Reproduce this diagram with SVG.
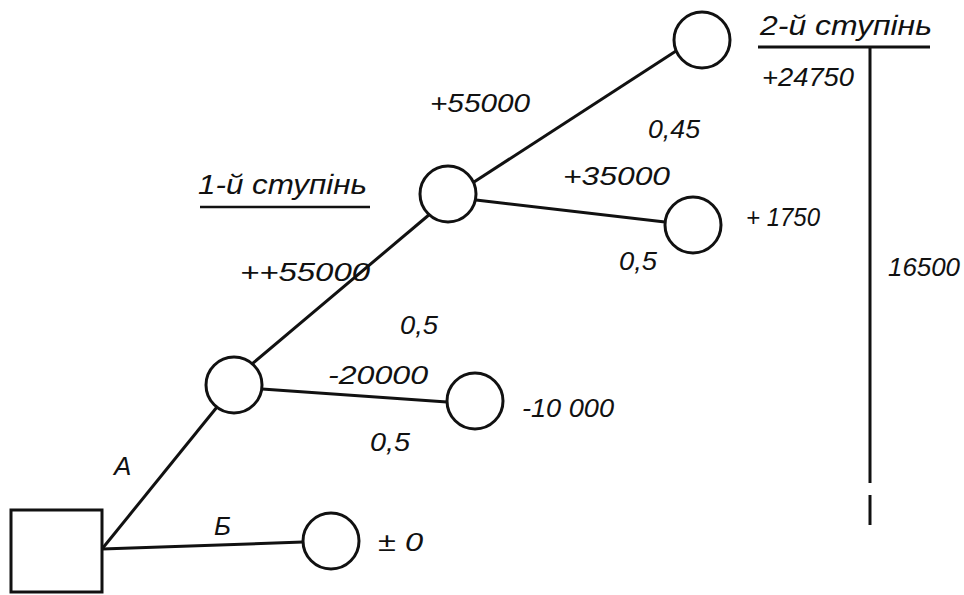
<svg xmlns="http://www.w3.org/2000/svg" width="964" height="595" viewBox="0 0 964 595">
<style>
.n{fill:none;stroke:#111;stroke-width:3}
.c line{stroke:#111;stroke-width:3}
text{font-family:"Liberation Sans",sans-serif;font-style:italic;font-size:26px;fill:#111}
.s{font-size:28px}
</style>
<rect width="964" height="595" fill="#fff"/>
<g class="c" id="connectors">
<line x1="102" y1="549" x2="303" y2="542"/>
<line x1="102" y1="549" x2="217" y2="407"/>
<line x1="262" y1="389" x2="447" y2="402"/>
<line x1="252" y1="364" x2="430" y2="214"/>
<line x1="474" y1="182" x2="676" y2="51"/>
<line x1="476" y1="200" x2="665" y2="222"/>
<line x1="758" y1="47" x2="930" y2="47"/>
<line x1="870" y1="47" x2="870" y2="483"/>
<line x1="870" y1="495" x2="870" y2="525"/>
</g>
<g id="root"><rect class="n" x="11" y="510" width="91" height="82"/></g>
<g id="nodeB"><circle class="n" cx="331" cy="541" r="28"/><text x="378" y="551" textLength="45" lengthAdjust="spacingAndGlyphs">± 0</text></g>
<g id="nodeA"><circle class="n" cx="234" cy="385" r="28"/></g>
<g id="nodeA_minus"><circle class="n" cx="475" cy="401" r="28"/><text x="522" y="417" textLength="92" lengthAdjust="spacingAndGlyphs">-10 000</text></g>
<g id="nodeA_plus"><circle class="n" cx="448" cy="194" r="28"/></g>
<g id="nodeTop"><circle class="n" cx="702" cy="40" r="28"/></g>
<g id="nodeMid"><circle class="n" cx="693" cy="225" r="28"/><text x="746" y="226" textLength="74" lengthAdjust="spacingAndGlyphs">+ 1750</text></g>
<g id="labels">
<text x="114" y="475">A</text>
<text x="214" y="535">Б</text>
<text x="328" y="384" textLength="100" lengthAdjust="spacingAndGlyphs">-20000</text>
<text x="370" y="451" textLength="40" lengthAdjust="spacingAndGlyphs">0,5</text>
<text x="240" y="281" textLength="130" lengthAdjust="spacingAndGlyphs">++55000</text>
<text x="400" y="334" textLength="38" lengthAdjust="spacingAndGlyphs">0,5</text>
<text class="s" x="198" y="194" textLength="169" lengthAdjust="spacingAndGlyphs">1-й  ступінь</text>
<line x1="200" y1="207" x2="370" y2="207" stroke="#111" stroke-width="2.5"/>
<text x="430" y="112" textLength="100" lengthAdjust="spacingAndGlyphs">+55000</text>
<text x="648" y="138" textLength="52" lengthAdjust="spacingAndGlyphs">0,45</text>
<text x="563" y="185" textLength="107" lengthAdjust="spacingAndGlyphs">+35000</text>
<text x="619" y="270" textLength="38" lengthAdjust="spacingAndGlyphs">0,5</text>
<text class="s" x="760" y="35" textLength="172" lengthAdjust="spacingAndGlyphs">2-й  ступінь</text>
<text x="762" y="86" textLength="92" lengthAdjust="spacingAndGlyphs">+24750</text>
<text x="888" y="276" textLength="72" lengthAdjust="spacingAndGlyphs">16500</text>
</g>
</svg>
